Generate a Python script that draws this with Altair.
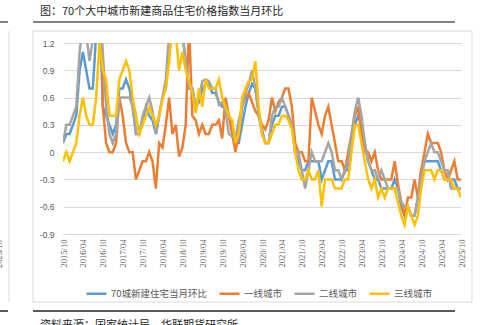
import altair as alt
import pandas as pd

FONT = "Noto Sans CJK SC"

# ---- categories -------------------------------------------------------
months = []
_y, _m = 2015, 10
for _ in range(121):
    months.append(f"{_y}/{_m:02d}")
    _m += 1
    if _m > 12:
        _m = 1
        _y += 1

tick_labels = ["2015/10", "2016/04", "2016/10", "2017/04", "2017/10", "2018/04",
               "2018/10", "2019/04", "2019/10", "2020/04", "2020/10", "2021/04",
               "2021/10", "2022/04", "2022/10", "2023/04", "2023/10", "2024/04",
               "2024/10", "2025/04", "2025/10"]
y_ticks = [-0.9, -0.6, -0.3, 0, 0.3, 0.6, 0.9, 1.2]

series_names = ["70城新建住宅当月环比", "一线城市", "二线城市", "三线城市"]
series_colors = ["#5B9BD5", "#ED7D31", "#A5A5A5", "#FFC000"]

# ---- series values ---------------------------------------------------
city70 = [0.1, 0.2, 0.2, 0.3, 0.4, 0.9, 1.1, 0.9, 0.7, 0.7, 1.3, 1.6,
          0.5, 0.4, 0.3, 0.2, 0.3, 0.7, 0.7, 0.8, 0.7, 0.5, 0.2, 0.2,
          0.35, 0.5, 0.4, 0.35, 0.2, 0.4, 0.6, 0.7, 1.1, 1.3, 1.4, 1.3,
          1.3, 1.0, 0.7, 0.7, 0.5, 0.55, 0.7, 0.75, 0.75, 0.65, 0.65, 0.55,
          0.5, 0.5, 0.4, 0.3, 0.1, 0.1, 0.3, 0.5, 0.65, 0.75, 0.7, 0.45,
          0.25, 0.1, 0.1, 0.3, 0.4, 0.4, 0.5, 0.5, 0.4, 0.3, 0.0, -0.1,
          -0.2, -0.2, -0.1, -0.1, -0.1, -0.1, -0.3, -0.2, -0.1, -0.1, -0.3, -0.3,
          -0.3, -0.2, -0.2, 0.1, 0.3, 0.4, 0.3, 0.1, -0.1, -0.2, -0.3, -0.3,
          -0.4, -0.4, -0.4, -0.4, -0.3, -0.4, -0.6, -0.7, -0.6, -0.7, -0.7, -0.5,
          -0.2, -0.1, -0.1, -0.1, -0.1, -0.1, -0.2, -0.3, -0.3, -0.3, -0.3, -0.4,
          -0.4]

tier1 = [1.2, 1.5, 1.6, 2.0, 3.0, 3.0, 1.8, 1.5, 1.7, 1.6, 2.5, 3.0,
         0.5, 0.1, 0.0, 0.0, 0.1, 0.6, 0.4, 0.1, 0.0, 0.0, -0.3, -0.2,
         -0.1, -0.1, 0.0, -0.1, -0.4, 0.1, 0.05, 0.3, 0.6, 0.2, 0.3, -0.05,
         0.05, 0.3, 1.4, 0.4, 0.35, 0.2, 0.3, 0.2, 0.2, 0.3, 0.3, 0.35,
         0.15, 0.6, 0.4, 0.2, 0.0, 0.2, 0.5, 0.6, 0.65, 0.55, 0.45, 0.4,
         0.3, 0.25, 0.35, 0.6, 0.45, 0.55, 0.6, 0.7, 0.7, 0.5, 0.1, 0.0,
         0.0, -0.1, -0.1, 0.6, 0.45, 0.3, 0.2, 0.4, 0.5, 0.3, 0.1, -0.1,
         -0.1, -0.2, 0.0, 0.2, 0.4, 0.5, 0.2, 0.0, 0.0, -0.1, 0.0, -0.2,
         -0.3, -0.3, -0.3, -0.3, -0.1, -0.35, -0.55, -0.7, -0.5, -0.5, -0.3, -0.5,
         -0.2, 0.0, 0.2, 0.1, 0.1, 0.1, 0.0, -0.2, -0.3, -0.2, -0.1, -0.3,
         -0.3]

tier2 = [0.1, 0.3, 0.3, 0.4, 0.5, 1.1, 1.4, 1.3, 1.0, 1.25, 1.5, 1.6,
         1.1, 0.5, 0.2, 0.1, 0.2, 0.6, 0.6, 0.6, 0.6, 0.5, 0.2, 0.2,
         0.4, 0.5, 0.6, 0.45, 0.2, 0.4, 0.6, 0.8, 1.3, 1.5, 1.6, 1.4,
         1.3, 1.0, 0.7, 0.7, 0.47, 0.6, 0.78, 0.8, 0.78, 0.7, 0.7, 0.52,
         0.55, 0.45, 0.2, 0.17, 0.15, 0.35, 0.5, 0.65, 0.75, 0.9, 0.7, 0.4,
         0.2, 0.1, 0.1, 0.4, 0.5, 0.5, 0.6, 0.5, 0.4, 0.3, 0.0, 0.0,
         -0.2, -0.4, -0.2, 0.0, -0.1, -0.1, -0.1, 0.0, 0.1, 0.0, -0.2, -0.2,
         -0.3, -0.2, -0.1, 0.2, 0.45, 0.6, 0.4, 0.1, -0.1, -0.2, -0.2, -0.3,
         -0.2, -0.3, -0.4, -0.4, -0.4, -0.4, -0.55, -0.6, -0.6, -0.7, -0.7, -0.5,
         -0.3, -0.1, 0.0, 0.1, 0.0, 0.0, -0.1, -0.2, -0.2, -0.4, -0.4, -0.4,
         -0.4]

tier3 = [-0.1, 0.0, -0.1, 0.0, 0.1, 0.4, 0.6, 0.4, 0.3, 0.3, 0.6, 1.2,
         0.9, 0.8, 0.4, 0.4, 0.4, 0.8, 0.9, 1.0, 0.9, 0.6, 0.4, 0.2,
         0.3, 0.4, 0.5, 0.4, 0.3, 0.4, 0.58, 0.7, 1.0, 1.4, 1.3, 0.9,
         1.1, 0.9, 0.78, 0.65, 0.43, 0.7, 0.5, 0.8, 0.7, 0.7, 0.7, 0.8,
         0.6, 0.5, 0.4, 0.35, 0.1, 0.2, 0.6, 0.7, 0.78, 0.8, 1.0, 0.5,
         0.2, 0.1, 0.1, 0.2, 0.3, 0.3, 0.4, 0.4, 0.35, 0.25, 0.0, -0.2,
         -0.3, -0.3, -0.2, -0.3, -0.3, -0.2, -0.6, -0.3, -0.3, -0.3, -0.4, -0.4,
         -0.4, -0.3, -0.3, 0.0, 0.3, 0.3, 0.1, -0.1, -0.3, -0.4, -0.3, -0.5,
         -0.4, -0.5, -0.4, -0.4, -0.4, -0.55, -0.7, -0.8, -0.6, -0.7, -0.8, -0.7,
         -0.4, -0.2, -0.2, -0.2, -0.3, -0.2, -0.2, -0.3, -0.3, -0.3, -0.4, -0.4,
         -0.5]

title_text = "图：70个大中城市新建商品住宅价格指数当月环比"
source_text = "资料来源：国家统计局，华联期货研究所"

# ---- long table ------------------------------------------------------
rows = []
for name, vals in zip(series_names, [city70, tier1, tier2, tier3]):
    for mo, v in zip(months, vals):
        rows.append({"month": mo, "series": name, "value": v})
df = pd.DataFrame(rows)

lines = alt.Chart(df).mark_line(strokeWidth=2.5, clip=True).encode(
    x=alt.X("month:O", sort=months,
            scale=alt.Scale(type="point", padding=0),
            axis=alt.Axis(values=tick_labels, labelAngle=270, title=None,
                          domain=False, ticks=False, labelPadding=5,
                          labelFontSize=8.5, labelColor="#595959",
                          labelFont="Liberation Serif", grid=False)),
    y=alt.Y("value:Q",
            scale=alt.Scale(domain=[-0.9, 1.2], nice=False, zero=False),
            axis=alt.Axis(values=y_ticks, title=None, domain=False, ticks=False,
                          labelPadding=9, labelFontSize=8.5, labelColor="#595959",
                          labelFont="Liberation Sans", grid=True,
                          gridColor="#d9d9d9", gridWidth=1,
                          labelExpr="replace(format(datum.value, '~g'), '\u2212', '-')")),
    color=alt.Color("series:N",
                    scale=alt.Scale(domain=series_names, range=series_colors),
                    legend=alt.Legend(title=None, orient="none", legendX=22, legendY=239,
                                      direction="horizontal", symbolType="stroke",
                                      symbolStrokeWidth=2.5, symbolSize=400,
                                      labelFontSize=9.5, labelColor="#595959",
                                      labelFont=FONT, columnPadding=6, labelOffset=3)),
)

one = pd.DataFrame({"d": [0]})
base = alt.Chart(one)

box = base.mark_rect(fillOpacity=0, stroke="#d9d9d9", strokeWidth=1).encode(
    x=alt.value(-30), x2=alt.value(409), y=alt.value(-12), y2=alt.value(259))

top_rule = base.mark_rule(color="#595959", strokeWidth=1.5).encode(
    x=alt.value(-30), x2=alt.value(392), y=alt.value(-21))
bot_rule = base.mark_rule(color="#595959", strokeWidth=2).encode(
    x=alt.value(-30), x2=alt.value(392), y=alt.value(268))

left_top = base.mark_rule(color="#595959", strokeWidth=1.5).encode(
    x=alt.value(-63), x2=alt.value(-55), y=alt.value(-21))
left_bot = base.mark_rule(color="#595959", strokeWidth=2).encode(
    x=alt.value(-63), x2=alt.value(-55), y=alt.value(268))
left_box = base.mark_rule(color="#d9d9d9", strokeWidth=1).encode(
    x=alt.value(-54), y=alt.value(-12), y2=alt.value(259))
left_lbl = base.mark_text(angle=270, align="right", baseline="middle", fontSize=8.5,
                          font="Liberation Serif", color="#595959").encode(
    x=alt.value(-64), y=alt.value(197), text=alt.value("2025/10"))

title = base.mark_text(align="left", baseline="middle", fontSize=11, font=FONT,
                       color="#262626").encode(
    x=alt.value(-23), y=alt.value(-31), text=alt.value(title_text))
source = base.mark_text(align="left", baseline="middle", fontSize=11, font=FONT,
                        color="#262626").encode(
    x=alt.value(-23), y=alt.value(283), text=alt.value(source_text))

chart = alt.layer(box, left_box, top_rule, bot_rule, left_top, left_bot, left_lbl,
                  title, source, lines).properties(
    width=398, height=191,
    padding={"left": 63, "top": 43, "right": 24, "bottom": 91},
    autosize=alt.AutoSizeParams(type="none"),
    background="white",
).configure_view(strokeWidth=0)

chart.save("out.html", embed_options={"renderer": "svg", "actions": False})
